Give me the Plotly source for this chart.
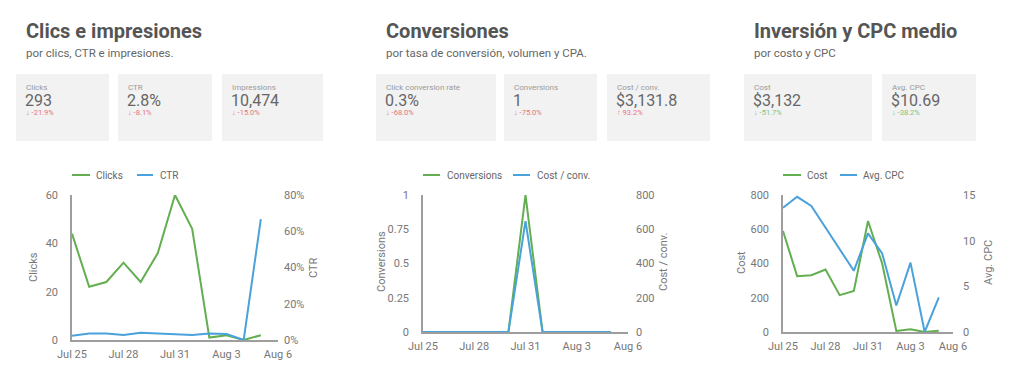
import plotly.graph_objects as go

W, H = 1024, 384

dates = ["2019-07-25", "2019-07-26", "2019-07-27", "2019-07-28", "2019-07-29", "2019-07-30",
         "2019-07-31", "2019-08-01", "2019-08-02", "2019-08-03", "2019-08-04", "2019-08-05"]
clicks = [44, 22, 24, 32, 24, 36, 60, 46, 1, 2, 0, 2]
ctr = [0.024, 0.036, 0.036, 0.028, 0.04, 0.036, 0.028, 0.028, 0.036, 0.033, 0.0, 0.667]
conversions = [0, 0, 0, 0, 0, 0, 1, 0, 0, 0, 0, 0]
cost_per_conv = [0, 0, 0, 0, 0, 0, 648, 0, 0, 0, 0, 0]
cost = [590, 326, 332, 365, 215, 240, 648, 400, 6, 16, 0, 8]
avg_cpc = [13.6, 14.8, 13.8, 11.4, 9.0, 6.7, 10.8, 8.6, 2.9, 7.6, 0.0, 3.8]

tick_dates = ["2019-07-25", "2019-07-28", "2019-07-31", "2019-08-03", "2019-08-06"]
tick_labels = ["Jul 25", "Jul 28", "Jul 31", "Aug 3", "Aug 6"]

titles = ["Clics e impresiones", "Conversiones", "Inversión y CPC medio"]
subtitles = ["por clics, CTR e impresiones.", "por tasa de conversión, volumen y CPA.", "por costo y CPC"]

kpi_labels = [["Clicks", "CTR", "Impressions"],
              ["Click conversion rate", "Conversions", "Cost / conv."],
              ["Cost", "Avg. CPC"]]
kpi_values = [["293", "2.8%", "10,474"],
              ["0.3%", "1", "$3,131.8"],
              ["$3,132", "$10.69"]]
kpi_changes = [["↓ -21.9%", "↓ -8.1%", "↓ -15.0%"],
               ["↓ -68.0%", "↓ -75.0%", "↑ 93.2%"],
               ["↓ -51.7%", "↓ -38.2%"]]
kpi_good = [[False, False, False], [False, False, False], [True, True]]

GREEN = "#63ae50"
BLUE = "#4aa2da"
FONT = "Roboto"
AX = "#9e9e9e"
TXT = "#777777"


def px(x):
    return x / W


def py(y):
    return 1 - y / H


fig = go.Figure()

# chart 1
fig.add_trace(go.Scatter(x=dates, y=clicks, mode="lines", line=dict(color=GREEN, width=2),
                         xaxis="x", yaxis="y", showlegend=False))
fig.add_trace(go.Scatter(x=dates, y=ctr, mode="lines", line=dict(color=BLUE, width=2),
                         xaxis="x", yaxis="y2", showlegend=False))
# chart 2
fig.add_trace(go.Scatter(x=dates, y=conversions, mode="lines", line=dict(color=GREEN, width=2),
                         xaxis="x2", yaxis="y3", showlegend=False))
fig.add_trace(go.Scatter(x=dates, y=cost_per_conv, mode="lines", line=dict(color=BLUE, width=2),
                         xaxis="x2", yaxis="y4", showlegend=False))
# chart 3
fig.add_trace(go.Scatter(x=dates, y=cost, mode="lines", line=dict(color=GREEN, width=2),
                         xaxis="x3", yaxis="y5", showlegend=False))
fig.add_trace(go.Scatter(x=dates, y=avg_cpc, mode="lines", line=dict(color=BLUE, width=2),
                         xaxis="x3", yaxis="y6", showlegend=False))

charts = [
    dict(x0=72, x1=278, y0=340, y1=195),
    dict(x0=423, x1=628, y0=332, y1=195),
    dict(x0=783, x1=953, y0=332, y1=195),
]

tickfont = dict(family=FONT, size=11, color=TXT)


def xaxis_cfg(c):
    return dict(domain=[px(c["x0"]), px(c["x1"])], range=["2019-07-25", "2019-08-06"], type="date",
                tickvals=tick_dates, ticktext=tick_labels, tickfont=tickfont, showgrid=False,
                showline=True, linecolor=AX, linewidth=1.5, zeroline=False, ticks="",
                ticklabelstandoff=3, fixedrange=True, automargin=False)


def yleft(c, rng, **kw):
    d = dict(domain=[py(c["y0"]), py(c["y1"])], range=rng, tickfont=tickfont, showgrid=False,
             showline=True, linecolor=AX, linewidth=1.5, zeroline=False, ticks="", side="left",
             ticklabelstandoff=10, automargin=False)
    d.update(kw)
    return d


def yright(anchor_x, overlay, rng, standoff, **kw):
    d = dict(overlaying=overlay, anchor=anchor_x, side="right", range=rng, tickfont=tickfont,
             showgrid=False, showline=False, zeroline=False, ticks="", ticklabelstandoff=standoff,
             automargin=False)
    d.update(kw)
    return d


fig.update_layout(
    xaxis=dict(xaxis_cfg(charts[0]), anchor="y"),
    xaxis2=dict(xaxis_cfg(charts[1]), anchor="y3"),
    xaxis3=dict(xaxis_cfg(charts[2]), anchor="y5"),
    yaxis=yleft(charts[0], [0, 60], dtick=20, anchor="x"),
    yaxis2=yright("x", "y", [0, 0.8], 5, dtick=0.2, tickformat=".0%"),
    yaxis3=yleft(charts[1], [0, 1], tickvals=[0, 0.25, 0.5, 0.75, 1],
                 ticktext=["0", "0.25", "0.5", "0.75", "1"], anchor="x2"),
    yaxis4=yright("x2", "y3", [0, 800], 7, dtick=200),
    yaxis5=yleft(charts[2], [0, 800], dtick=200, anchor="x3"),
    yaxis6=yright("x3", "y5", [0, 15], 9, dtick=5),
)

shapes = []
annotations = []

# titles
title_x = [24, 384, 752]
for i in range(3):
    annotations.append(dict(x=px(title_x[i]), y=py(31), xref="paper", yref="paper", xanchor="left",
                            yanchor="middle", text="<b>" + titles[i] + "</b>", showarrow=False,
                            font=dict(family=FONT, size=20, color="#555555")))
    annotations.append(dict(x=px(title_x[i]), y=py(53), xref="paper", yref="paper", xanchor="left",
                            yanchor="middle", text=subtitles[i], showarrow=False,
                            font=dict(family=FONT, size=11.5, color="#666666")))

# KPI boxes
boxes = [[(16, 109), (118, 212), (222, 323)],
         [(376, 496), (504, 597), (607, 710)],
         [(744, 872), (882, 976)]]
for i in range(3):
    for j, (bx0, bx1) in enumerate(boxes[i]):
        shapes.append(dict(type="rect", xref="paper", yref="paper", x0=px(bx0), x1=px(bx1),
                           y0=py(141), y1=py(74), fillcolor="#f2f2f2", line=dict(width=0),
                           layer="below"))
        annotations.append(dict(x=px(bx0 + 8), y=py(87), xref="paper", yref="paper", xanchor="left",
                                yanchor="middle", text=kpi_labels[i][j], showarrow=False,
                                font=dict(family=FONT, size=8, color="#9a9a9a")))
        annotations.append(dict(x=px(bx0 + 7), y=py(101), xref="paper", yref="paper", xanchor="left",
                                yanchor="middle", text=kpi_values[i][j], showarrow=False,
                                font=dict(family=FONT, size=16, color="#666666")))
        col = "#7cc47c" if kpi_good[i][j] else "#e5737f"
        annotations.append(dict(x=px(bx0 + 8), y=py(113), xref="paper", yref="paper", xanchor="left",
                                yanchor="middle", text=kpi_changes[i][j], showarrow=False,
                                font=dict(family=FONT, size=7.5, color=col)))

# legends
legends = [
    [(72, 90, 94, "Clicks", GREEN), (137, 153, 158, "CTR", BLUE)],
    [(423, 440, 445, "Conversions", GREEN), (513, 530, 535, "Cost / conv.", BLUE)],
    [(783, 801, 805, "Cost", GREEN), (840, 857, 861, "Avg. CPC", BLUE)],
]
for leg in legends:
    for (lx0, lx1, tx, label, colr) in leg:
        shapes.append(dict(type="line", xref="paper", yref="paper", x0=px(lx0), x1=px(lx1),
                           y0=py(175), y1=py(175), line=dict(color=colr, width=2)))
        annotations.append(dict(x=px(tx), y=py(175), xref="paper", yref="paper", xanchor="left",
                                yanchor="middle", text=label, showarrow=False,
                                font=dict(family=FONT, size=10, color="#666666")))

# axis titles
axis_titles = [("Clicks", 33, 267), ("CTR", 313, 268), ("Conversions", 381, 262),
               ("Cost / conv.", 663, 262), ("Cost", 741, 263), ("Avg. CPC", 988, 263)]
for (t, ax_, ay_) in axis_titles:
    annotations.append(dict(x=px(ax_), y=py(ay_), xref="paper", yref="paper", xanchor="center",
                            yanchor="middle", text=t, textangle=-90, showarrow=False,
                            font=dict(family=FONT, size=11, color=TXT)))

fig.update_layout(
    width=W, height=H, margin=dict(l=0, r=0, t=0, b=0),
    paper_bgcolor="white", plot_bgcolor="white",
    shapes=shapes, annotations=annotations, showlegend=False,
    font=dict(family=FONT),
)

fig.write_html("out.html", config={"displayModeBar": False})
